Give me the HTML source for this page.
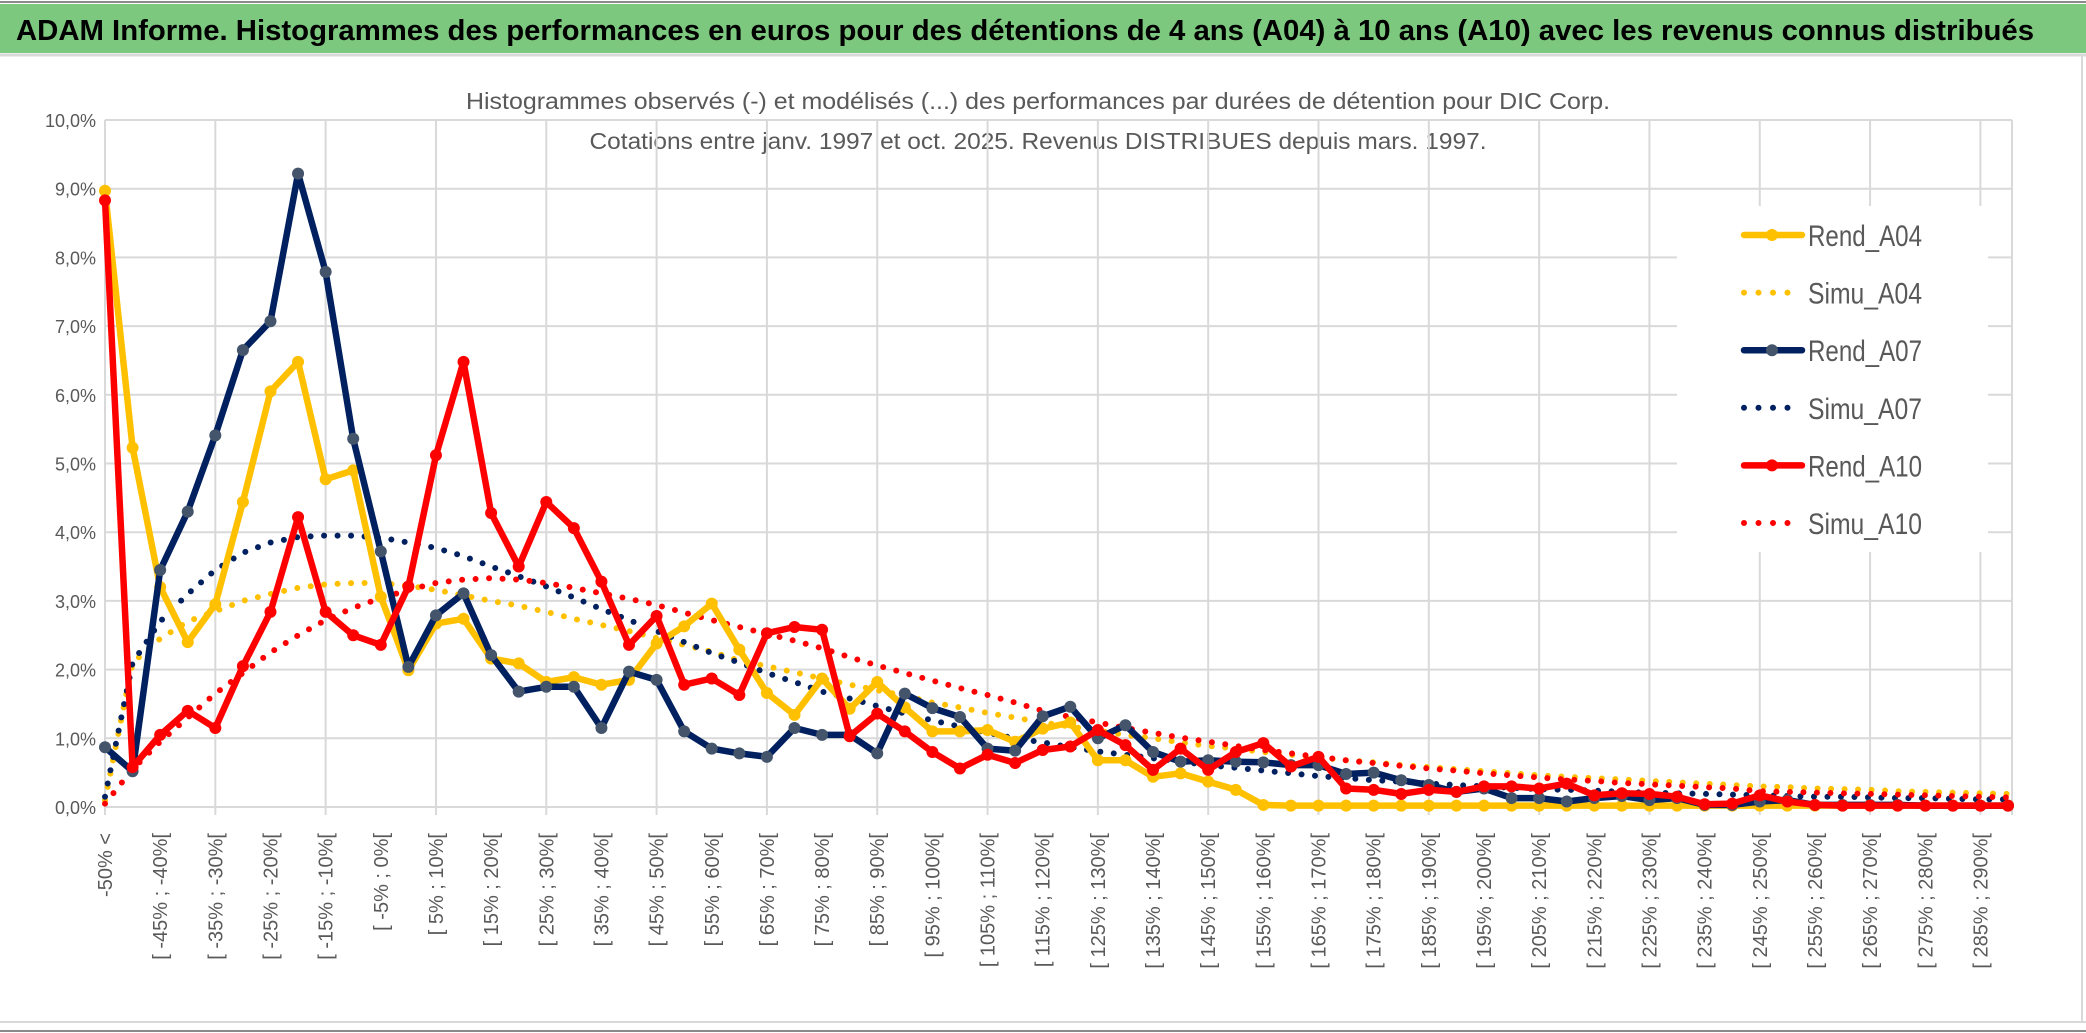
<!DOCTYPE html>
<html><head><meta charset="utf-8">
<style>
html,body{margin:0;padding:0;background:#fff;}
svg{display:block;}
</style></head>
<body>
<svg id="chart" width="2086" height="1033" viewBox="0 0 2086 1033" xmlns="http://www.w3.org/2000/svg">
<rect x="0" y="0" width="2086" height="1033" fill="#fff"/>
<rect x="0" y="4" width="2086" height="49" fill="#7dc87f"/>
<line x1="0" y1="2" x2="2086" y2="2" stroke="#8a8a8a" stroke-width="2"/>
<line x1="0" y1="55" x2="2086" y2="55" stroke="#d9d9d9" stroke-width="3"/>
<text x="16" y="40" font-family="'Liberation Sans',sans-serif" font-weight="bold" font-size="29" textLength="2018" lengthAdjust="spacingAndGlyphs" fill="#000">ADAM Informe. Histogrammes des performances en euros pour des détentions de 4 ans (A04) à 10 ans (A10) avec les revenus connus distribués</text>
<text x="1038" y="109" text-anchor="middle" font-family="'Liberation Sans',sans-serif" font-size="23" textLength="1144" lengthAdjust="spacingAndGlyphs" fill="#595959">Histogrammes observés (-) et modélisés (...) des performances par durées de détention pour DIC Corp.</text>
<text x="1038" y="149" text-anchor="middle" font-family="'Liberation Sans',sans-serif" font-size="23" textLength="897" lengthAdjust="spacingAndGlyphs" fill="#595959">Cotations entre janv. 1997 et oct. 2025. Revenus DISTRIBUES depuis mars. 1997.</text>
<g id="grid"></g>
<g id="ylabels"></g>
<g id="xlabels"></g>
<g id="series"></g>
<g id="legend"></g>
<line x1="0" y1="1022" x2="2086" y2="1022" stroke="#d9d9d9" stroke-width="2"/>
<line x1="2082" y1="56" x2="2082" y2="1022" stroke="#d9d9d9" stroke-width="2"/>
<line x1="0" y1="1031" x2="2086" y2="1031" stroke="#8a8a8a" stroke-width="2"/>
</svg>
<script>
const yTicks = [0,1,2,3,4,5,6,7,8,9,10];
const rendA04 = [8.97,5.23,3.2,2.4,2.95,4.44,6.05,6.48,4.77,4.9,3.06,1.99,2.67,2.74,2.16,2.09,1.82,1.89,1.78,1.85,2.38,2.63,2.96,2.29,1.66,1.34,1.87,1.43,1.82,1.45,1.1,1.1,1.12,0.95,1.14,1.23,0.68,0.68,0.44,0.49,0.37,0.25,0.03,0.02,0.02,0.02,0.02,0.02,0.02,0.02,0.02,0.02,0.02,0.02,0.02,0.02,0.02,0.02,0.02,0.02,0.02,0.02,0.02,0.02,0.02,0.02,0.02,0.02,0.02,0.02];
const rendA07 = [0.87,0.52,3.45,4.3,5.41,6.65,7.07,9.22,7.79,5.36,3.72,2.04,2.79,3.11,2.21,1.68,1.75,1.75,1.15,1.97,1.85,1.1,0.85,0.78,0.73,1.15,1.05,1.05,0.78,1.65,1.44,1.31,0.85,0.82,1.32,1.46,1.0,1.19,0.8,0.66,0.68,0.66,0.65,0.61,0.61,0.48,0.5,0.39,0.32,0.22,0.27,0.13,0.13,0.08,0.13,0.16,0.1,0.13,0.03,0.03,0.08,0.1,0.03,0.03,0.03,0.03,0.02,0.02,0.02,0.02];
const rendA10 = [8.83,0.58,1.05,1.4,1.15,2.05,2.84,4.22,2.84,2.5,2.36,3.21,5.12,6.48,4.28,3.5,4.44,4.06,3.28,2.36,2.78,1.78,1.87,1.63,2.53,2.62,2.58,1.03,1.36,1.1,0.8,0.56,0.76,0.64,0.83,0.88,1.12,0.9,0.54,0.85,0.54,0.8,0.93,0.59,0.73,0.27,0.25,0.19,0.25,0.22,0.3,0.3,0.27,0.34,0.17,0.2,0.19,0.15,0.04,0.05,0.17,0.08,0.03,0.02,0.02,0.02,0.02,0.02,0.02,0.02];
const simuA04 = [0.1,2.1,2.45,2.7,2.85,3.0,3.1,3.19,3.24,3.26,3.26,3.22,3.16,3.08,3.0,2.93,2.84,2.74,2.65,2.56,2.46,2.36,2.26,2.13,2.05,1.96,1.87,1.78,1.7,1.62,1.52,1.45,1.37,1.3,1.23,1.17,1.11,1.05,1.0,0.94,0.89,0.85,0.8,0.76,0.72,0.68,0.65,0.61,0.58,0.55,0.52,0.49,0.46,0.44,0.42,0.4,0.38,0.36,0.34,0.32,0.3,0.29,0.27,0.26,0.25,0.23,0.22,0.21,0.2,0.19];
const simuA07 = [0.15,2.1,2.7,3.1,3.45,3.7,3.85,3.93,3.95,3.95,3.92,3.85,3.77,3.65,3.5,3.36,3.21,3.05,2.88,2.72,2.56,2.4,2.24,2.1,1.95,1.82,1.68,1.58,1.47,1.36,1.26,1.17,1.08,1.0,0.94,0.87,0.81,0.76,0.71,0.66,0.61,0.57,0.53,0.49,0.45,0.42,0.39,0.37,0.34,0.32,0.3,0.28,0.26,0.25,0.24,0.22,0.21,0.2,0.19,0.18,0.17,0.16,0.15,0.15,0.14,0.13,0.13,0.12,0.11,0.11];
const simuA10 = [0.05,0.55,0.95,1.3,1.65,1.95,2.25,2.5,2.72,2.9,3.04,3.16,3.26,3.31,3.33,3.31,3.26,3.19,3.11,3.03,2.94,2.83,2.72,2.62,2.52,2.42,2.31,2.18,2.06,1.95,1.84,1.73,1.63,1.52,1.4,1.31,1.23,1.15,1.08,1.01,0.95,0.89,0.83,0.78,0.73,0.68,0.64,0.6,0.56,0.53,0.49,0.46,0.43,0.4,0.38,0.35,0.33,0.31,0.29,0.27,0.23,0.22,0.21,0.2,0.19,0.18,0.17,0.16,0.15,0.14];
const categories = ['-50% <'];
for (let a = -50; a < 295; a += 5) categories.push('[ ' + a + '% ; ' + (a + 5) + '%[');

const NS = 'http://www.w3.org/2000/svg';
const X0 = 105, X1 = 2008, Y0 = 807, YTOP = 120;
const step = (X1 - X0) / (categories.length - 1);
function xs(i){ return X0 + i * step; }
function ys(v){ return Y0 - (v / 10) * (Y0 - YTOP); }
function mk(tag, attrs, parent){
  const e = document.createElementNS(NS, tag);
  for (const k in attrs) e.setAttribute(k, attrs[k]);
  parent.appendChild(e); return e;
}
const grid = document.getElementById('grid');
yTicks.forEach(t => {
  const l = mk('line', {x1:X0, x2:2012, y1:ys(t), y2:ys(t), stroke:'#d9d9d9', 'stroke-width':2}, grid);
  
  
  const tx = mk('text', {x:96, y:ys(t)+7, 'text-anchor':'end', 'font-family':"'Liberation Sans',sans-serif", 'font-size':18, fill:'#595959'}, document.getElementById('ylabels'));
  tx.textContent = t.toFixed(1).replace('.', ',') + '%';
  
  
});
for (let i = 0; i < categories.length; i += 4) {
  const l = mk('line', {x1:xs(i), x2:xs(i), y1:YTOP, y2:Y0+8, stroke:'#d9d9d9', 'stroke-width':2}, grid);
  
  
}
mk('line', {x1:2012, x2:2012, y1:YTOP, y2:Y0+8, stroke:'#d9d9d9', 'stroke-width':2}, grid);
const xl = document.getElementById('xlabels');
for (let i = 0; i < categories.length; i += 2) {
  const x = xs(i) + 7, y = 833;
  const t = mk('text', {x:x, y:y, transform:'rotate(-90 '+x+' '+y+')', 'text-anchor':'end', 'font-family':"'Liberation Sans',sans-serif", 'font-size':20, fill:'#595959'}, xl);
  t.textContent = categories[i];
  
  
}
const sg = document.getElementById('series');
function pts(arr){ return arr.map((v,i) => xs(i).toFixed(1) + ',' + ys(v).toFixed(1)).join(' '); }
function dotted(arr, color, name){
  const p = mk('polyline', {points:pts(arr), fill:'none', stroke:color, 'stroke-width':6, 'stroke-linecap':'round', 'stroke-dasharray':'0 13.5'}, sg);
  
  
}
function solid(arr, color, mcolor, name){
  const p = mk('polyline', {points:pts(arr), fill:'none', stroke:color, 'stroke-width':6.5, 'stroke-linejoin':'round'}, sg);
  
  
  arr.forEach((v,i) => {
    const c = mk('circle', {cx:xs(i), cy:ys(v), r:6, fill:mcolor}, sg);
    
    
  });
}
dotted(simuA04, '#ffc000', 'simu-a04-line');
dotted(simuA07, '#002060', 'simu-a07-line');
dotted(simuA10, '#ff0000', 'simu-a10-line');
solid(rendA04, '#ffc000', '#ffc000', 'rend-a04-line');
solid(rendA07, '#002060', '#44546a', 'rend-a07-line');
solid(rendA10, '#ff0000', '#ff0000', 'rend-a10-line');

const lg = document.getElementById('legend');
const bg = mk('rect', {x:1677, y:206, width:311, height:346, fill:'#fff'}, lg);


const legendItems = [['Rend_A04','#ffc000','#ffc000',false],['Simu_A04','#ffc000','',true],['Rend_A07','#002060','#44546a',false],['Simu_A07','#002060','',true],['Rend_A10','#ff0000','#ff0000',false],['Simu_A10','#ff0000','',true]];
legendItems.forEach((it, k) => {
  const y = 235 + k * 57.6;
  if (it[3]) {
    const l = mk('line', {x1:1744, x2:1800, y1:y, y2:y, stroke:it[1], 'stroke-width':6, 'stroke-linecap':'round', 'stroke-dasharray':'0 14.5'}, lg);
    
    
  } else {
    const l = mk('line', {x1:1744, x2:1802, y1:y, y2:y, stroke:it[1], 'stroke-width':6.5, 'stroke-linecap':'round'}, lg);
    
    
    mk('circle', {cx:1772, cy:y, r:6, fill:it[2]}, lg);
  }
  const t = mk('text', {x:1808, y:y+11, 'font-family':"'Liberation Sans',sans-serif", 'font-size':30, textLength:114, lengthAdjust:'spacingAndGlyphs', fill:'#595959'}, lg);
  t.textContent = it[0];
  
  
});
</script>
</body></html>
